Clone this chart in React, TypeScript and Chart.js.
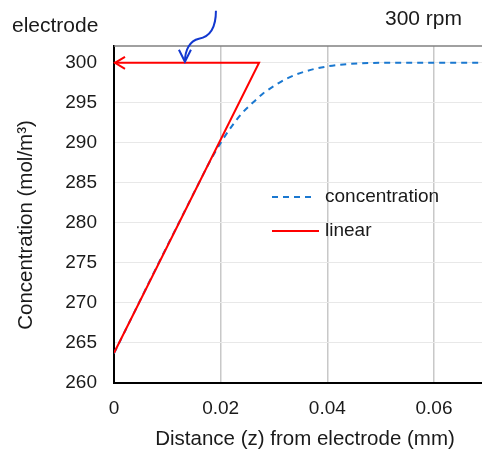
import { useEffect, useRef } from "react";
import { Chart, registerables } from "chart.js";
Chart.register(...registerables);

const distanceMm = [0, 0.004, 0.008, 0.012, 0.016, 0.018, 0.02, 0.022, 0.024, 0.026, 0.028, 0.03, 0.032, 0.034, 0.036, 0.038, 0.04, 0.043, 0.046, 0.05, 0.06, 0.07];
const concentration = [263.7, 269.1, 274.5, 279.8, 285.1, 287.7, 290.0, 292.0, 293.7, 295.0, 296.2, 297.1, 297.9, 298.5, 298.95, 299.3, 299.55, 299.8, 299.92, 300.0, 300.0, 300.0];
const linearDistance = [0, 0.0272, 0];
const linearConc = [263.75, 300, 300];
const xTicks = [0, 0.02, 0.04, 0.06];
const yTicks = [260, 265, 270, 275, 280, 285, 290, 295, 300];
const xMin = 0, xMax = 0.069;
const yMin = 260, yMax = 302.1;
const arrowTarget = { x: 0.0133, y: 300 };
const xTitle = "Distance (z) from electrode (mm)";
const yTitle = "Concentration (mol/m³)";

const FONT = "'Liberation Sans', Arial, sans-serif";
const TEXT = "#1a1a1a";

const decor = {
  id: "decor",
  afterDatasetsDraw(chart: any) {
    const { ctx, chartArea, scales } = chart;
    const sx = scales.x, sy = scales.y;
    ctx.save();
    // top border
    ctx.strokeStyle = "#808080";
    ctx.lineWidth = 1.5;
    ctx.beginPath();
    ctx.moveTo(chartArea.left, chartArea.top);
    ctx.lineTo(chartArea.right, chartArea.top);
    ctx.stroke();
    // red arrowhead at end of linear line
    const ex = sx.getPixelForValue(linearDistance[2]);
    const ey = sy.getPixelForValue(linearConc[2]);
    ctx.strokeStyle = "#ff0000";
    ctx.lineWidth = 2;
    ctx.beginPath();
    ctx.moveTo(ex + 11, ey - 6);
    ctx.lineTo(ex + 1, ey);
    ctx.lineTo(ex + 11, ey + 6);
    ctx.stroke();
    // blue annotation arrow
    const tx = sx.getPixelForValue(arrowTarget.x);
    const ty = sy.getPixelForValue(arrowTarget.y) - 1;
    ctx.strokeStyle = "#1238d0";
    ctx.lineWidth = 2;
    ctx.beginPath();
    ctx.moveTo(tx + 31, ty - 51);
    ctx.bezierCurveTo(tx + 31, ty - 35, tx + 25, ty - 25, tx + 14, ty - 23);
    ctx.bezierCurveTo(tx + 5, ty - 21, tx, ty - 12, tx, ty);
    ctx.stroke();
    ctx.beginPath();
    ctx.moveTo(tx - 6, ty - 12);
    ctx.lineTo(tx, ty);
    ctx.lineTo(tx + 6, ty - 12);
    ctx.stroke();
    // legend
    const lx = chartArea.left + 158;
    ctx.lineWidth = 2;
    ctx.strokeStyle = "#1a78d0";
    ctx.setLineDash([6, 5]);
    ctx.beginPath();
    ctx.moveTo(lx, 197);
    ctx.lineTo(lx + 44, 197);
    ctx.stroke();
    ctx.setLineDash([]);
    ctx.strokeStyle = "#ff0000";
    ctx.beginPath();
    ctx.moveTo(lx, 231);
    ctx.lineTo(lx + 47, 231);
    ctx.stroke();
    ctx.fillStyle = TEXT;
    ctx.font = `19px ${FONT}`;
    ctx.textBaseline = "middle";
    ctx.textAlign = "left";
    ctx.fillText("concentration", lx + 53, 197);
    ctx.fillText("linear", lx + 53, 231);
    // corner texts
    ctx.font = `21px ${FONT}`;
    ctx.fillText("electrode", 12, 26);
    ctx.fillText("300 rpm", 385, 19);
    // axis titles
    ctx.font = `20.5px ${FONT}`;
    ctx.textAlign = "center";
    ctx.fillText(xTitle, 305, 439);
    ctx.save();
    ctx.translate(26, 225);
    ctx.rotate(-Math.PI / 2);
    ctx.fillText(yTitle, 0, 0);
    ctx.restore();
    ctx.restore();
  },
};

export default function App() {
  const ref = useRef<HTMLCanvasElement | null>(null);
  useEffect(() => {
    if (!ref.current) return;
    const chart = new Chart(ref.current, {
      type: "scatter",
      data: {
        datasets: [
          {
            label: "linear",
            data: linearDistance.map((x, i) => ({ x, y: linearConc[i] })),
            showLine: true,
            borderColor: "#ff0000",
            borderWidth: 2,
            pointRadius: 0,
            order: 0,
          },
          {
            label: "concentration",
            data: distanceMm.map((x, i) => ({ x, y: concentration[i] })),
            showLine: true,
            borderColor: "#1a78d0",
            borderWidth: 2,
            borderDash: [6, 5],
            pointRadius: 0,
            cubicInterpolationMode: "monotone",
            order: 1,
          },
        ],
      },
      options: {
        animation: false,
        responsive: false,
        maintainAspectRatio: false,
        layout: { padding: { top: 46, right: 0, left: 0, bottom: 0 } },
        plugins: { legend: { display: false }, tooltip: { enabled: false } },
        scales: {
          x: {
            type: "linear",
            min: xMin,
            max: xMax,
            afterBuildTicks: (s: any) => { s.ticks = xTicks.map((v) => ({ value: v })); },
            afterFit: (s: any) => { s.height = 69; },
            ticks: {
              color: TEXT,
              font: { family: FONT, size: 19 },
              padding: 14,
              maxRotation: 0,
              callback: (v: any) => String(Math.round(Number(v) * 1000) / 1000),
            },
            grid: { color: "#c8c8c8", lineWidth: 1.5, drawTicks: false },
            border: { color: "#000000", width: 2 },
          },
          y: {
            type: "linear",
            min: yMin,
            max: yMax,
            afterBuildTicks: (s: any) => { s.ticks = yTicks.map((v) => ({ value: v })); },
            afterFit: (s: any) => { s.width = 114; },
            ticks: {
              color: TEXT,
              font: { family: FONT, size: 19 },
              padding: 17,
            },
            grid: { color: "#e8e8e8", lineWidth: 1, drawTicks: false },
            border: { color: "#000000", width: 2 },
          },
        },
      },
      plugins: [decor],
    } as any);
    return () => chart.destroy();
  }, []);
  return (
    <div style={{ position: "absolute", left: 0, top: 0, width: 482, height: 452, background: "#fff" }}>
      <canvas ref={ref} width={482} height={452} style={{ width: 482, height: 452 }} />
    </div>
  );
}
